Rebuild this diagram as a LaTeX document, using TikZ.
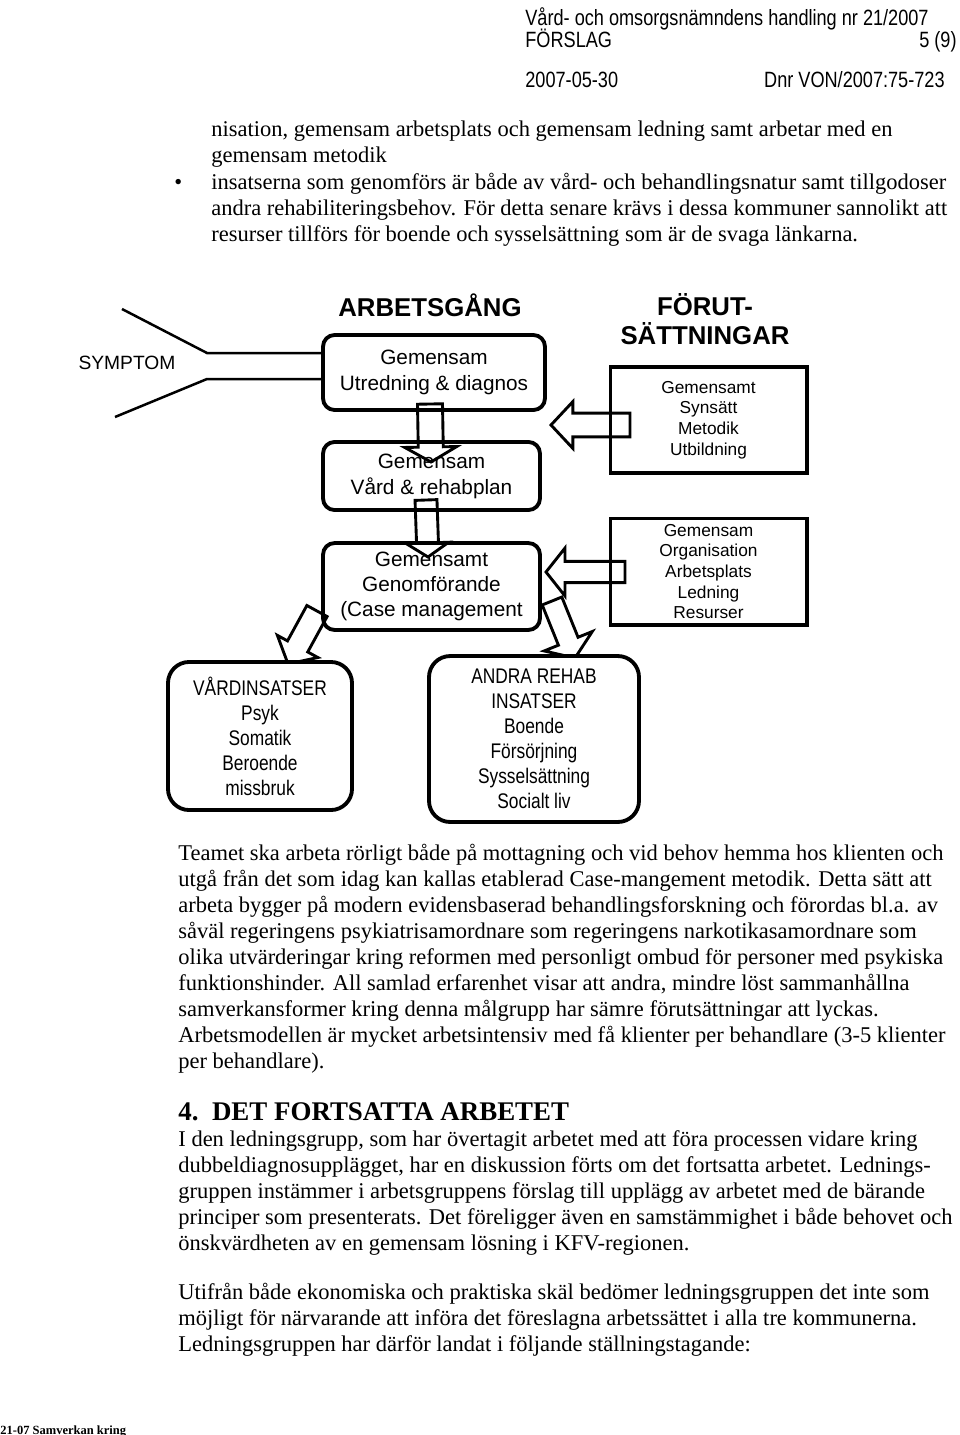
\documentclass[tikz,border=0pt]{standalone}
\usepackage{fontspec}
\setmainfont{Liberation Serif}
\setsansfont{Liberation Sans}
\newfontfamily\narrowsans[FakeStretch=0.82]{Liberation Sans}
\usetikzlibrary{backgrounds}

\tikzset{
  roundbox/.style={draw, line width=2pt, rounded corners=6pt, align=center, inner sep=0pt,
                   font=\sffamily\fontsize{10.8}{13.6}\selectfont},
  squarebox/.style={draw, line width=1.6pt, align=center, inner sep=0pt,
                    font=\sffamily\fontsize{9}{10.7}\selectfont},
  insatsbox/.style={draw, fill=white, line width=2pt, rounded corners=11pt, align=center, inner sep=0pt,
                    font=\narrowsans\fontsize{11}{13}\selectfont},
  heading/.style={font=\sffamily\bfseries\fontsize{13.4}{15}\selectfont, align=center, inner sep=0pt},
  yline/.style={line width=1.3pt},
  fatarr/.style={draw, fill=white, line width=1.5pt, line join=miter},
  % base west of a multi-line node = baseline of its last line
  brodtext/.style={anchor=base west, align=left, inner sep=0pt, font=\fontsize{11.7}{13.52}\selectfont},
  huvud/.style={anchor=base west, inner sep=0pt, font=\narrowsans\fontsize{11.5}{14}\selectfont},
}

% block arrow: tail, tip, shaft half width, head half width, head length
\newcommand\fatarrow[5]{%
  \pgfpointdiff{\pgfpointanchor{#1}{center}}{\pgfpointanchor{#2}{center}}%
  \pgfgetlastxy{\fadx}{\fady}%
  \pgfmathsetmacro\faang{atan2(\fady,\fadx)}%
  \pgfmathsetmacro\falen{veclen(\fadx,\fady)}%
  \begin{scope}[shift={(#1)}, rotate=\faang]
    \draw[fatarr] (0pt,-#3) -- ({\falen pt-#5},-#3) -- ({\falen pt-#5},-#4) -- (\falen pt,0pt)
      -- ({\falen pt-#5},#4) -- ({\falen pt-#5},#3) -- (0pt,#3) -- cycle;
  \end{scope}}

\begin{document}
\begin{tikzpicture}[x=0.52pt, y=-0.52pt]
\useasboundingbox (0,0) rectangle (960,1435);

% sidhuvud
\node[huvud] (hdr1) at (525,25) {Vård- och omsorgsnämndens handling nr 21/2007};
\node[huvud] (hdr2) at (525,47) {FÖRSLAG};
\node[huvud, anchor=base east] (hdr3) at (957,47) {5 (9)};
\node[huvud] (hdr4) at (525,87) {2007-05-30};
\node[huvud, anchor=base east] (hdr5) at (945,87) {Dnr VON/2007:75-723};

% text ovanfor figuren
\node[brodtext] (txt1) at (211,162) {nisation, gemensam arbetsplats och gemensam ledning samt arbetar med en\\
gemensam metodik};
\node[brodtext] (bullet) at (174,189) {•};
\node[brodtext] (txt2) at (211,241) {insatserna som genomförs är både av vård- och behandlingsnatur samt tillgodoser\\
andra rehabiliteringsbehov. För detta senare krävs i dessa kommuner sannolikt att\\
resurser tillförs för boende och sysselsättning som är de svaga länkarna.};

% rubriker
\node[heading] (arbgang) at (430,305) {ARBETSGÅNG};
\node[heading] (forut) at (705,319) {FÖRUT-\\SÄTTNINGAR};
\node[font=\sffamily\fontsize{10}{12}\selectfont] (symptom) at (127,363) {SYMPTOM};

% arbetsgang
\node[roundbox, minimum width=115.4pt, minimum height=39pt] (utredning) at (434,372.5) {Gemensam\\Utredning \& diagnos};
\node[roundbox, minimum width=112.8pt, minimum height=35.4pt] (vardplan) at (431.5,476) {Gemensam\\Vård \& rehabplan};
\node[roundbox, minimum width=112.8pt, minimum height=45.2pt, font=\sffamily\fontsize{10.8}{13}\selectfont] (genomf) at (431.5,586.5) {Gemensamt\\Genomförande\\(Case management};

% forutsattningar
\node[squarebox, minimum width=102.4pt, minimum height=55.1pt] (synsatt) at (708.5,420) {Gemensamt\\Synsätt\\Metodik\\Utbildning};
\node[squarebox, minimum width=102.4pt, minimum height=55.6pt] (organis) at (708.5,571.5) {Gemensam\\Organisation\\Arbetsplats\\Ledning\\Resurser};

% insatser
\node[insatsbox, minimum width=95.7pt, minimum height=77pt] (vardins) at (260,736) {VÅRDINSATSER\\Psyk\\Somatik\\Beroende\\missbruk};
\node[insatsbox, minimum width=109.2pt, minimum height=86.3pt] (andra) at (534,739) {ANDRA REHAB\\INSATSER\\Boende\\Försörjning\\Sysselsättning\\Socialt liv};

% symptomgrenar
\coordinate (ygren1) at (122,309);
\coordinate (ygren2) at (115,417);
\coordinate (yled1) at (207,353);
\coordinate (yled2) at (207,379);
\draw[yline] (ygren1) -- (yled1) -- (yled1 -| utredning.west);
\draw[yline] (ygren2) -- (yled2) -- (yled2 -| utredning.west);

% blockpilar
\begin{pgfonlayer}{background}
\coordinate (pilA1) at (430,404); \coordinate (pilA2) at (431,462);
\coordinate (pilB1) at (426,500); \coordinate (pilB2) at (428,557);
\coordinate (pilC1) at (630,425); \coordinate (pilC2) at (551,425);
\coordinate (pilD1) at (625,572); \coordinate (pilD2) at (546,572);
\coordinate (pilE1) at (317,611); \coordinate (pilE2) at (288,664);
\coordinate (pilF1) at (552,601); \coordinate (pilF2) at (575,658);
\fatarrow{pilA1}{pilA2}{6.5pt}{13.5pt}{7.8pt}
\fatarrow{pilB1}{pilB2}{5.7pt}{11pt}{7.3pt}
\fatarrow{pilC1}{pilC2}{6.2pt}{12.2pt}{11.4pt}
\fatarrow{pilD1}{pilD2}{5.5pt}{12.5pt}{9.9pt}
\fatarrow{pilE1}{pilE2}{6pt}{12pt}{10.4pt}
\fatarrow{pilF1}{pilF2}{5.5pt}{13.5pt}{9.4pt}
\end{pgfonlayer}

% text under figuren
\node[brodtext] (txt3) at (178,1068) {Teamet ska arbeta rörligt både på mottagning och vid behov hemma hos klienten och\\
utgå från det som idag kan kallas etablerad Case-mangement metodik. Detta sätt att\\
arbeta bygger på modern evidensbaserad behandlingsforskning och förordas bl.a. av\\
såväl regeringens psykiatrisamordnare som regeringens narkotikasamordnare som\\
olika utvärderingar kring reformen med personligt ombud för personer med psykiska\\
funktionshinder. All samlad erfarenhet visar att andra, mindre löst sammanhållna\\
samverkansformer kring denna målgrupp har sämre förutsättningar att lyckas.\\
Arbetsmodellen är mycket arbetsintensiv med få klienter per behandlare (3-5 klienter\\
per behandlare).};

\node[brodtext, font=\bfseries\fontsize{14}{16}\selectfont] (rubrik4) at (178,1120) {4.\enspace DET FORTSATTA ARBETET};

\node[brodtext] (txt4) at (178,1250) {I den ledningsgrupp, som har övertagit arbetet med att föra processen vidare kring\\
dubbeldiagnosupplägget, har en diskussion förts om det fortsatta arbetet. Lednings-\\
gruppen instämmer i arbetsgruppens förslag till upplägg av arbetet med de bärande\\
principer som presenterats. Det föreligger även en samstämmighet i både behovet och\\
önskvärdheten av en gemensam lösning i KFV-regionen.};

\node[brodtext] (txt5) at (178,1351) {Utifrån både ekonomiska och praktiska skäl bedömer ledningsgruppen det inte som\\
möjligt för närvarande att införa det föreslagna arbetssättet i alla tre kommunerna.\\
Ledningsgruppen har därför landat i följande ställningstagande:};

% sidfot
\node[anchor=base west, inner sep=0pt, font=\bfseries\fontsize{6.5}{7}\selectfont] (fot) at (0,1434) {21-07 Samverkan kring};
\end{tikzpicture}
\end{document}
